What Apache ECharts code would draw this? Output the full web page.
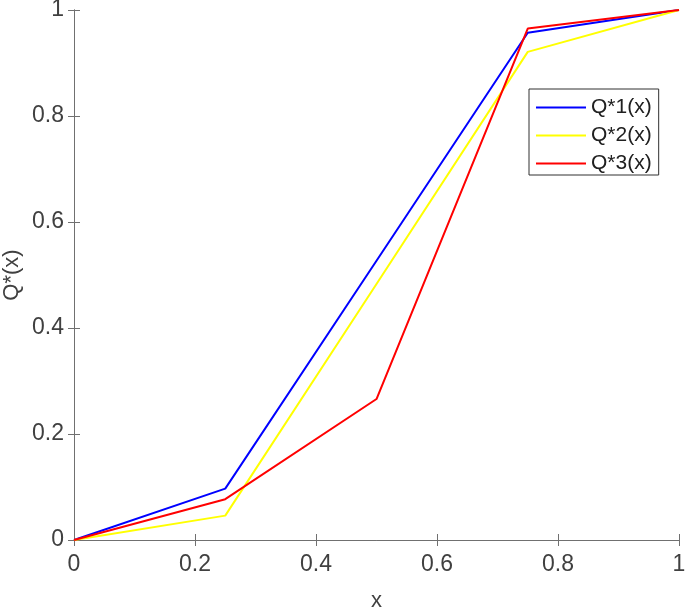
<!DOCTYPE html>
<html>
<head>
<meta charset="utf-8">
<script src="https://cdn.jsdelivr.net/npm/echarts@6/dist/echarts.min.js"></script>
<style>html,body{margin:0;padding:0;background:#fff;}#c{width:685px;height:609px;}</style>
</head>
<body>
<div id="c"></div>
<script>
var xs = [0, 0.25, 0.5, 0.75, 1];
var q1 = [0, 0.097, 0.527, 0.957, 1];
var q2 = [0, 0.046, 0.483, 0.921, 1];
var q3 = [0, 0.077, 0.266, 0.965, 1];
var seriesNames = ['Q*1(x)', 'Q*2(x)', 'Q*3(x)'];
var colors = ['#0000ff', '#ffff00', '#ff0000'];
var ticks = [0, 0.2, 0.4, 0.6, 0.8, 1];

function pairs(ys){ return xs.map(function(x,i){ return [x, ys[i]]; }); }
var font = 'Liberation Sans, Arial, sans-serif';
var axisCol = '#707070';
var labCol = '#404040';

function mkAxis(pos, isX, main){
  var a = {
    type: 'value', min: 0, max: 1, interval: 0.2, position: pos,
    axisLine: {show: true, lineStyle: {color: axisCol, width: 1}},
    axisTick: {show: true, inside: true, length: 6, lineStyle: {color: axisCol}},
    splitLine: {show: false},
    axisLabel: {show: main, color: labCol, fontSize: 23, fontFamily: font,
      margin: isX ? 13 : 10,
      formatter: function(v){ return String(Math.round(v*10)/10); }}
  };
  if (main) {
    a.name = isX ? 'x' : 'Q*(x)';
    a.nameLocation = 'middle';
    a.nameGap = isX ? 50 : 51;
    a.nameMoveOverlap = false;
    a.nameTextStyle = {color: labCol, fontSize: 22, fontFamily: font};
  }
  return a;
}

var chart = echarts.init(document.getElementById('c'));
chart.setOption({
  animation: false,
  grid: {left: 74, top: 10, right: 6, bottom: 69, containLabel: false, outerBoundsMode: 'none'},
  xAxis: [mkAxis('bottom', true, true), mkAxis('top', true, false)],
  yAxis: [mkAxis('left', false, true), mkAxis('right', false, false)],
  legend: {
    orient: 'vertical', left: 529, top: 89,
    data: seriesNames,
    itemWidth: 50, itemHeight: 14, itemGap: 7,
    padding: [8, 7, 1, 6],
    borderColor: '#303030', borderWidth: 1, backgroundColor: '#fff',
    textStyle: {color: '#202020', fontSize: 21, fontFamily: font},
    itemStyle: {opacity: 0}
  },
  series: [q1, q2, q3].map(function(d, i){
    return {
      name: seriesNames[i], type: 'line', data: pairs(d),
      symbol: 'none', smooth: false,
      lineStyle: {color: colors[i], width: 2},
      itemStyle: {color: colors[i]}
    };
  })
});
</script>
</body>
</html>
